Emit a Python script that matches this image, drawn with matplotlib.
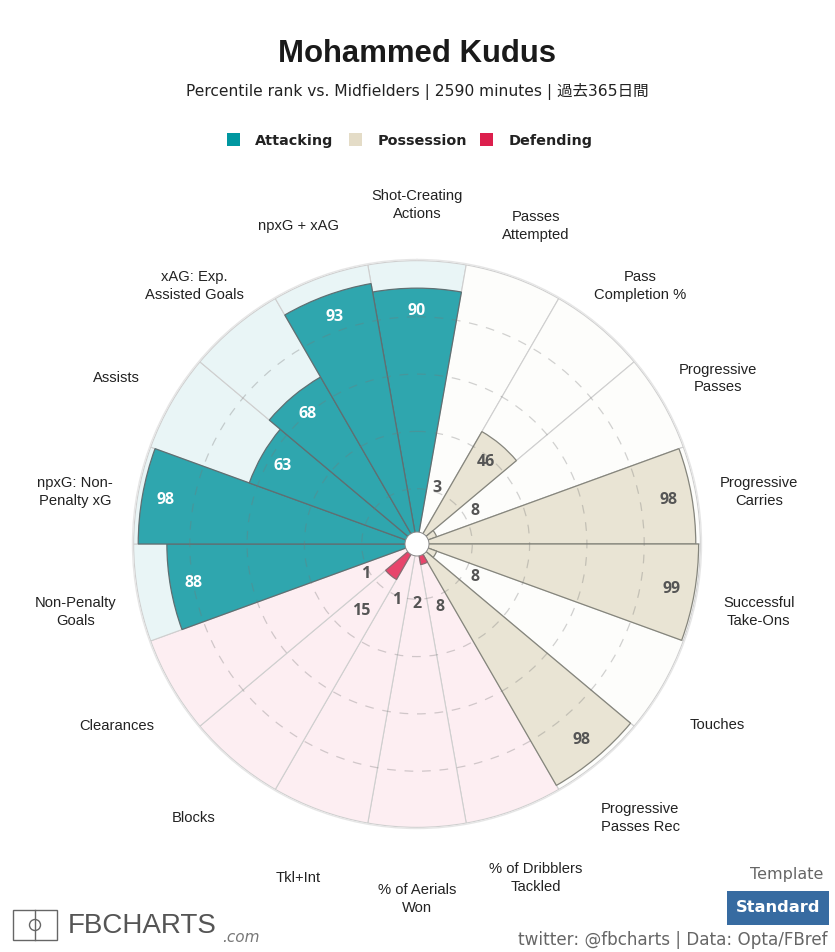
#!/usr/bin/env python3
"""
Percentile pizza chart for Mohammed Kudus.
"""

import numpy as np
import matplotlib
matplotlib.use('Agg')
import matplotlib.pyplot as plt
from matplotlib.patches import Rectangle, Circle

W, H = 835, 952
CX, CY = 417, 544
R_PX = 284.5

# clockwise from the top
metrics = ['Shot-Creating\nActions', 'Passes\nAttempted', 'Pass\nCompletion %',
           'Progressive\nPasses', 'Progressive\nCarries', 'Successful\nTake-Ons',
           'Touches', 'Progressive\nPasses Rec', '% of Dribblers\nTackled',
           '% of Aerials\nWon', 'Tkl+Int', 'Blocks', 'Clearances',
           'Non-Penalty\nGoals', 'npxG: Non-\nPenalty xG', 'Assists',
           'xAG: Exp.\nAssisted Goals', 'npxG + xAG']
values = [90, 3, 46, 8, 98, 99, 8, 98, 8, 2, 1, 15, 1, 88, 98, 63, 68, 93]
groups = ['att', 'pos', 'pos', 'pos', 'pos', 'pos', 'pos', 'pos', 'def',
          'def', 'def', 'def', 'def', 'att', 'att', 'att', 'att', 'att']

bar_colors = {'att': '#2fa6ae', 'pos': '#e9e4d4', 'def': '#e8446b'}
bar_edges = {'att': '#5f6f72', 'pos': '#85857c', 'def': '#8a6a72'}
bg_colors = {'att': '#e9f5f6', 'pos': '#fdfdfb', 'def': '#fdeef2'}
legend_names = ['Attacking', 'Possession', 'Defending']
legend_colors = ['#0097a0', '#e4dcc7', '#dc1f4d']
rings = [20, 40, 60, 80]


def fx(x):
    return x / W


def fy(y):
    return 1 - y / H


fig = plt.figure(figsize=(W / 100, H / 100), dpi=100, facecolor='white')
ax = fig.add_axes([fx(CX - R_PX), fy(CY + R_PX), 2 * R_PX / W, 2 * R_PX / H],
                  projection='polar')
ax.set_theta_zero_location('N')
ax.set_theta_direction(-1)
ax.set_ylim(0.7, 100)

n = len(values)
width = 2 * np.pi / n
theta = np.arange(n) * width

ax.bar(theta, 98.9, width=width, bottom=0.7, zorder=1,
       color=[bg_colors[g] for g in groups], edgecolor='#cfcfcf', linewidth=0.8)
ax.bar(theta, np.array(values) - 0.7, width=width, bottom=0.7, zorder=2,
       color=[bar_colors[g] for g in groups],
       edgecolor=[bar_edges[g] for g in groups], linewidth=0.9)

# dashed rings sit on top of the bars
ax.set_axisbelow(False)
ax.set_xticks([])
ax.set_yticks(rings)
ax.set_yticklabels([])
ax.yaxis.grid(True, color='#777777', alpha=0.33, linestyle=(0, (7, 7)), linewidth=0.9)
ax.tick_params(length=0)
ax.spines['polar'].set_color('#e6e6e6')
ax.spines['polar'].set_linewidth(1)

ax.add_patch(Circle((0.5, 0.5), 12 / (2 * R_PX), transform=ax.transAxes,
                    facecolor='white', edgecolor='#888888', linewidth=0.7, zorder=5))

# value labels
for t, v, g in zip(theta, values, groups):
    if v >= 20:
        pos, col = v - 8, '#555555' if g == 'pos' else 'white'
    else:
        pos, col = max(21.5, v + 16), '#555555'
    ax.text(t, pos, str(v), ha='center', va='center', color=col, zorder=6,
            family='Open Sans', fontweight='bold', fontsize=11.5)

# metric names
for t, name in zip(theta, metrics):
    fig.text(fx(CX + 347 * np.sin(t)), fy(CY + 8 - 347 * np.cos(t)), name,
             ha='center', va='center', family='Liberation Sans', fontsize=10.6,
             color='#222222', linespacing=1.32)

# header
fig.text(fx(417), fy(54), 'Mohammed Kudus', ha='center', va='center',
         family='Liberation Sans', fontweight='bold', fontsize=22.4, color='#1a1a1a')
fig.text(fx(417), fy(91.5), 'Percentile rank vs. Midfielders | 2590 minutes | 過去365日間',
         ha='center', va='center', family=['DejaVu Sans', 'Noto Sans CJK JP'],
         fontsize=11.2, color='#222222')

# legend
swatches = [227, 349, 480]
text_x = [255, 378, 509]
for sx, tx, name, col in zip(swatches, text_x, legend_names, legend_colors):
    fig.add_artist(Rectangle((fx(sx), fy(146)), 13 / W, 13 / H, transform=fig.transFigure,
                             facecolor=col, edgecolor='none'))
    fig.text(fx(tx), fy(145), name, ha='left', va='baseline', family='DejaVu Sans',
             fontweight='bold', fontsize=10.4, color='#222222')

# logo
fig.add_artist(Rectangle((fx(13), fy(940)), 44 / W, 30 / H, transform=fig.transFigure,
                         facecolor='none', edgecolor='#666666', linewidth=1))
fig.add_artist(plt.Line2D([fx(35), fx(35)], [fy(910), fy(940)], color='#666666', linewidth=1))
fig.add_artist(Circle((35, H - 925), 5.5, transform=None, facecolor='none',
                      edgecolor='#666666', linewidth=1))
fig.text(fx(68), fy(926), 'FBCHARTS', ha='left', va='center',
         family='Liberation Sans', fontsize=20, color='#555555')
fig.text(fx(222), fy(937), '.com', ha='left', va='center', family='DejaVu Sans',
         style='italic', fontsize=11, color='#777777')

# template box and credit
fig.text(fx(823), fy(875), 'Template', ha='right', va='center', family='DejaVu Sans',
         fontsize=11.5, color='#666666')
fig.add_artist(Rectangle((fx(727), fy(925)), 102 / W, 34 / H, transform=fig.transFigure,
                         facecolor='#376ba1', edgecolor='none'))
fig.text(fx(778), fy(908), 'Standard', ha='center', va='center', family='DejaVu Sans',
         fontweight='bold', fontsize=11.7, color='white')
fig.text(fx(828), fy(940), 'twitter: @fbcharts | Data: Opta/FBref', ha='right', va='center',
         family='DejaVu Sans', fontsize=12.1, color='#666666')

fig.savefig('out.png', dpi=100)
